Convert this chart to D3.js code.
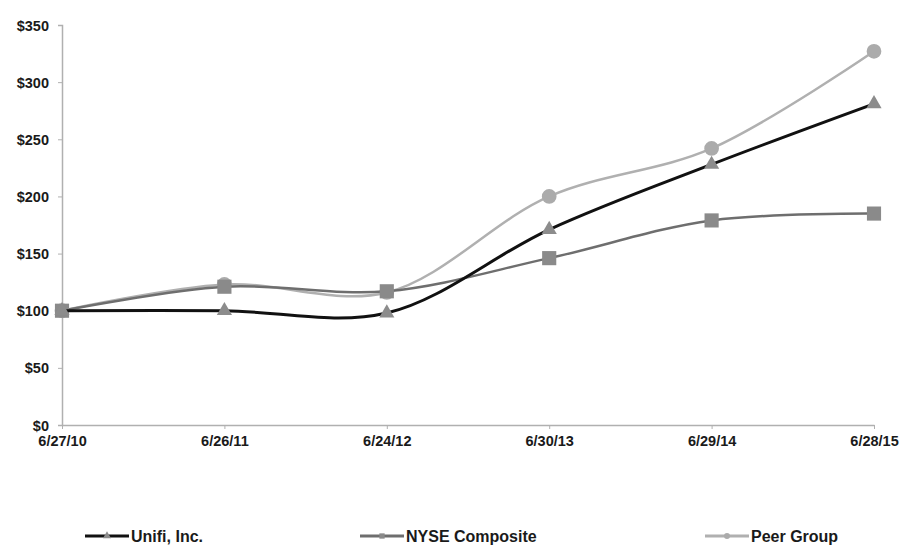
<!DOCTYPE html>
<html>
<head>
<meta charset="utf-8">
<script src="https://cdn.jsdelivr.net/npm/d3@7.9.0/dist/d3.min.js"></script>
<style>
  body { margin: 0; background: #fff; }
  svg text { font-family: "Liberation Sans", Arial, sans-serif; font-weight: bold; fill: #1a1a1a; }
</style>
</head>
<body>
<svg width="903" height="549"></svg>
<script>
const dates = ["6/27/10", "6/26/11", "6/24/12", "6/30/13", "6/29/14", "6/28/15"];
const unifi = [100, 100, 98, 171, 228, 281];
const nyse = [100, 121, 117, 146, 179, 185];
const peer = [100, 123, 116, 200, 242, 327];
const yTicks = [0, 50, 100, 150, 200, 250, 300, 350];

const svg = d3.select("svg");

const x = d3.scalePoint().domain(dates).range([62, 874]);
const y = d3.scaleLinear().domain([0, 350]).range([425, 25]);

// axes
const yAxis = svg.append("g")
  .attr("transform", "translate(62,0)")
  .call(d3.axisLeft(y).tickValues(yTicks).tickSize(4).tickFormat(d => "$" + d));
const xAxis = svg.append("g")
  .attr("transform", "translate(0,425)")
  .call(d3.axisBottom(x).tickSize(4).tickSizeOuter(0));
[yAxis, xAxis].forEach(g => {
  g.select(".domain").attr("stroke", "#b0b0b0").attr("stroke-width", 1.5);
  g.selectAll(".tick line").attr("stroke", "#b0b0b0");
  g.selectAll("text").style("font-size", "14.5px");
});
yAxis.selectAll("text").attr("x", -13).attr("dy", "0.35em");
xAxis.selectAll("text").attr("y", 11);

const series = [
  { name: "Unifi, Inc.", values: unifi, line: "#111", width: 3, marker: "triangle", fill: "#8c8c8c", size: 100 },
  { name: "NYSE Composite", values: nyse, line: "#6e6e6e", width: 2.5, marker: "square", fill: "#8a8a8a", size: 200 },
  { name: "Peer Group", values: peer, line: "#b0b0b0", width: 2.5, marker: "circle", fill: "#ababab", size: 170 }
];

const line = d3.line()
  .x((d, i) => x(dates[i]))
  .y(d => y(d))
  .curve(d3.curveCatmullRom.alpha(0.5));

const symbolType = { triangle: d3.symbolTriangle, square: d3.symbolSquare, circle: d3.symbolCircle };

// draw peer first, then nyse, then unifi on top
[series[2], series[1], series[0]].forEach(s => {
  svg.append("path")
    .attr("d", line(s.values))
    .attr("fill", "none")
    .attr("stroke", s.line)
    .attr("stroke-width", s.width);
  svg.selectAll(null)
    .data(s.values)
    .enter().append("path")
    .attr("transform", (d, i) => `translate(${x(dates[i])},${y(d)})`)
    .attr("d", d3.symbol().type(symbolType[s.marker]).size(s.size))
    .attr("fill", s.fill);
});

// legend
const legendX = [85, 360, 705];
series.forEach((s, i) => {
  const g = svg.append("g").attr("transform", `translate(${legendX[i]},536)`);
  g.append("line").attr("x1", 0).attr("x2", 44).attr("stroke", s.line).attr("stroke-width", 3);
  g.append("path").attr("transform", "translate(22,0)")
    .attr("d", d3.symbol().type(symbolType[s.marker]).size(28))
    .attr("fill", s.fill);
  g.append("text").attr("x", 46).attr("dy", "0.35em").style("font-size", "16px").text(s.name);
});
</script>
</body>
</html>
